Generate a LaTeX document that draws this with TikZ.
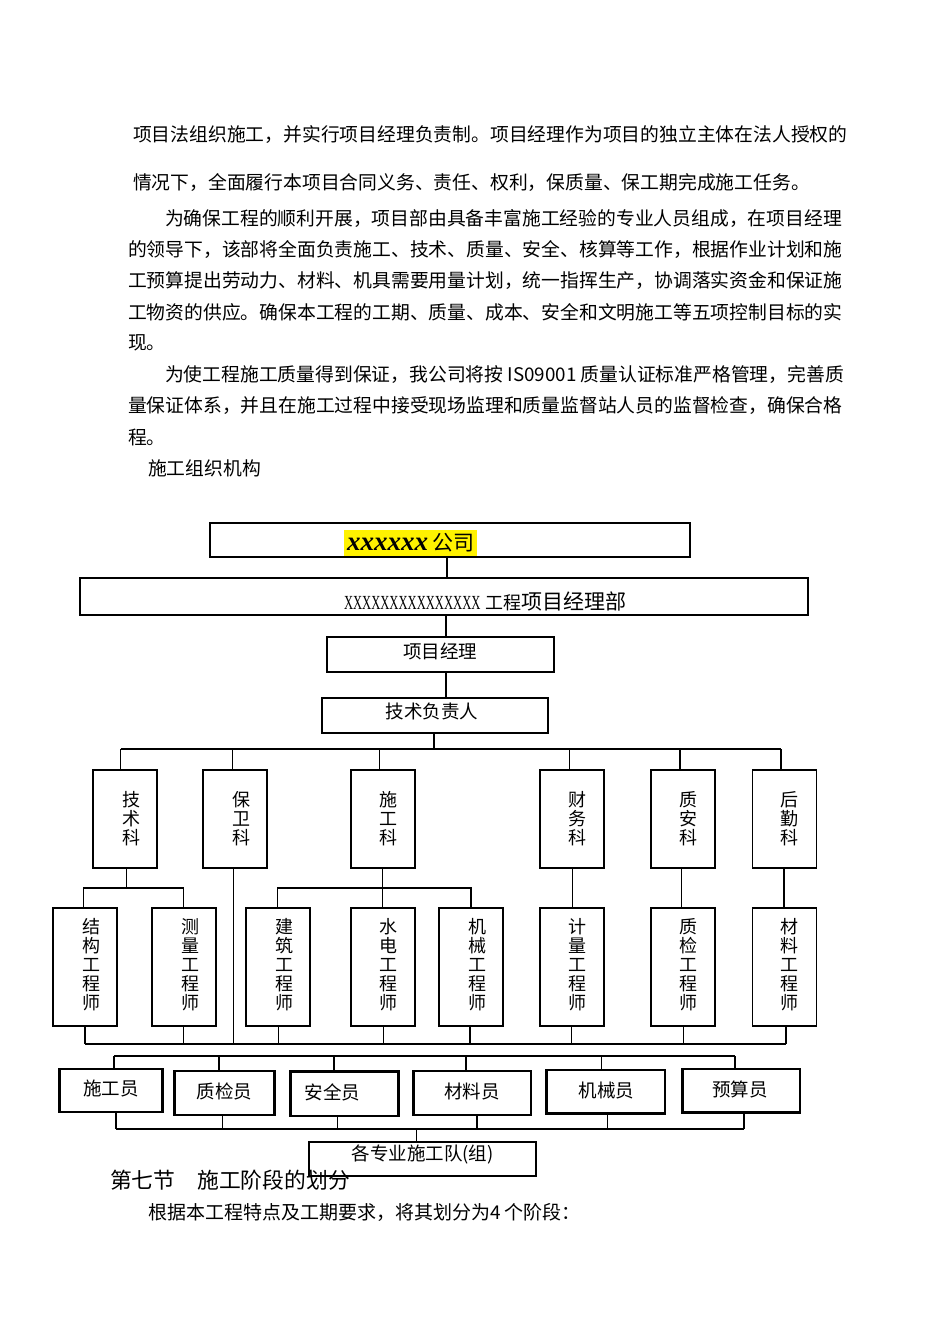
\documentclass[tikz,border=0pt]{standalone}
\usepackage{fontspec}
\usepackage{graphicx}
\setmainfont{Noto Sans CJK SC}
\newfontfamily\lserif{Liberation Serif}
\begin{document}
\begin{tikzpicture}[x=1pt,y=-1pt,
  every node/.style={inner sep=0pt, outer sep=0pt},
  box/.style={draw, line width=1.8pt, fill=white},
  sbox/.style={draw, line width=2.6pt, fill=white},
  secbox/.style={box, minimum width=64pt, minimum height=98pt},
  engbox/.style={box, minimum width=64pt, minimum height=118pt},
  conn/.style={line width=1.2pt},
  para/.style={anchor=west, font=\fontsize{18.8}{18.8}\selectfont},
  vtxt/.style={align=center, font=\fontsize{18}{19}\selectfont},
  htxt/.style={font=\fontsize{18.5}{18.5}\selectfont},
]
\fill[white] (0,0) rectangle (950,1344);
\useasboundingbox (0,0) rectangle (950,1344);

% ---------------- paragraph text ----------------
\node[para] (p1) at (133,135) {项目法组织施工，并实行项目经理负责制。项目经理作为项目的独立主体在法人授权的};
\node[para] (p2) at (133,183) {情况下，全面履行本项目合同义务、责任、权利，保质量、保工期完成施工任务。};
\node[para] (p3) at (165,219) {为确保工程的顺利开展，项目部由具备丰富施工经验的专业人员组成，在项目经理};
\node[para] (p4) at (128,250) {的领导下，该部将全面负责施工、技术、质量、安全、核算等工作，根据作业计划和施};
\node[para] (p5) at (128,281) {工预算提出劳动力、材料、机具需要用量计划，统一指挥生产，协调落实资金和保证施};
\node[para] (p6) at (128,312) {工物资的供应。确保本工程的工期、质量、成本、安全和文明施工等五项控制目标的实};
\node[para] (p7) at (128,343) {现。};
\node[para] (p8) at (165,375) {为使工程施工质量得到保证，我公司将按 IS09001 质量认证标准严格管理，完善质};
\node[para] (p9) at (128,406) {量保证体系，并且在施工过程中接受现场监理和质量监督站人员的监督检查，确保合格};
\node[para] (p10) at (128,437) {程。};
\node[para] (p11) at (148,468) {施工组织机构};

% ---------------- top boxes ----------------
\node[box, minimum width=480pt, minimum height=34pt] (gs) at (450,540) {};
\node[fill=yellow, minimum width=133pt, minimum height=26pt] (gst) at (410.5,543)
  {{\lserif\bfseries\itshape\fontsize{27}{27}\selectfont xxxxxx}\hspace{4pt}{\fontsize{21}{21}\selectfont 公司}};
\node[box, minimum width=728pt, minimum height=37pt] (xmb) at (444,596.5) {};
\node[anchor=base west] (xmbt) at (344,609)
  {{\lserif\fontsize{20}{20}\selectfont\scalebox{0.63}[1]{XXXXXXXXXXXXXXX}}\hspace{5pt}{\fontsize{18}{18}\selectfont 工程}{\fontsize{21}{21}\selectfont 项目经理部}};
\node[box, minimum width=227pt, minimum height=35pt] (xmjl) at (440.5,654.5) {};
\node[htxt] (xmjlt) at ([xshift=-0.5pt,yshift=3.5pt]xmjl.center) {项目经理};
\node[box, minimum width=226pt, minimum height=35pt] (jsfzr) at (435,715.5) {};
\node[htxt] (jsfzrt) at ([xshift=-3pt,yshift=4.5pt]jsfzr.center) {技术负责人};

% ---------------- sections ----------------
\node[secbox] (jsk) at (125,819) {};
\node[secbox] (bwk) at (235,819) {};
\node[secbox] (sgk) at (383.3,819) {};
\node[secbox] (cwk) at (572,819) {};
\node[secbox] (zak) at (683,819) {};
\node[secbox] (hqk) at (784.4,819) {};
\node[vtxt] (jskt) at ([xshift=6pt,yshift=0.5pt]jsk.center) {技\\术\\科};
\node[vtxt] (bwkt) at ([xshift=6pt,yshift=0.5pt]bwk.center) {保\\卫\\科};
\node[vtxt] (sgkt) at ([xshift=5pt,yshift=0.5pt]sgk.center) {施\\工\\科};
\node[vtxt] (cwkt) at ([xshift=5pt,yshift=0.5pt]cwk.center) {财\\务\\科};
\node[vtxt] (zakt) at ([xshift=5pt,yshift=0.5pt]zak.center) {质\\安\\科};
\node[vtxt] (hqkt) at ([xshift=5.5pt,yshift=0.5pt]hqk.center) {后\\勤\\科};

% ---------------- engineers ----------------
\node[engbox] (jg) at (85,967) {};
\node[engbox] (cl) at (184,967) {};
\node[engbox] (jz) at (278.3,967) {};
\node[engbox] (sd) at (383,967) {};
\node[engbox] (jx) at (471,967) {};
\node[engbox] (jl) at (572,967) {};
\node[engbox] (zj) at (683,967) {};
\node[engbox] (clg) at (784.4,967) {};
\node[vtxt] (jgt) at ([xshift=6.5pt,yshift=2pt]jg.center) {结\\构\\工\\程\\师};
\node[vtxt] (clt) at ([xshift=6pt,yshift=2pt]cl.center) {测\\量\\工\\程\\师};
\node[vtxt] (jzt) at ([xshift=6.5pt,yshift=2pt]jz.center) {建\\筑\\工\\程\\师};
\node[vtxt] (sdt) at ([xshift=5.5pt,yshift=2pt]sd.center) {水\\电\\工\\程\\师};
\node[vtxt] (jxt) at ([xshift=6pt,yshift=2pt]jx.center) {机\\械\\工\\程\\师};
\node[vtxt] (jlt) at ([xshift=5.5pt,yshift=2pt]jl.center) {计\\量\\工\\程\\师};
\node[vtxt] (zjt) at ([xshift=5.5pt,yshift=2pt]zj.center) {质\\检\\工\\程\\师};
\node[vtxt] (clgt) at ([xshift=5.5pt,yshift=2pt]clg.center) {材\\料\\工\\程\\师};

% ---------------- staff ----------------
\node[sbox, minimum width=103pt, minimum height=43pt] (sgy) at (110.8,1090.5) {};
\node[sbox, minimum width=99.6pt, minimum height=44pt] (zjy) at (224.5,1093) {};
\node[sbox, minimum width=107.6pt, minimum height=44.3pt] (aqy) at (344.5,1093.8) {};
\node[sbox, minimum width=117.7pt, minimum height=44pt] (cly) at (472.2,1093) {};
\node[sbox, minimum width=118.3pt, minimum height=43.3pt] (jxy) at (605.9,1091.7) {};
\node[sbox, minimum width=117.7pt, minimum height=43.7pt] (ysy) at (741.2,1090.9) {};
\node[htxt] (sgyt) at ([yshift=2.5pt]sgy.center) {施工员};
\node[htxt] (zjyt) at ([yshift=1.3pt]zjy.center) {质检员};
\node[htxt] (aqyt) at ([xshift=-12pt,yshift=1.8pt]aqy.center) {安全员};
\node[htxt] (clyt) at ([yshift=2pt]cly.center) {材料员};
\node[htxt] (jxyt) at ([xshift=0.8pt,yshift=1.7pt]jxy.center) {机械员};
\node[htxt] (ysyt) at ([xshift=-1pt,yshift=1pt]ysy.center) {预算员};

\node[box, minimum width=226.4pt, minimum height=34pt] (gzy) at (422.5,1158.7) {};
\node[htxt] (gzyt) at ([yshift=4.7pt]gzy.center) {各专业施工队(组)};

% ---------------- connectors ----------------
\draw[conn] ([xshift=-3pt]gs.south) -- ([xshift=3pt]xmb.north);
\draw[conn] ([xshift=2pt]xmb.south) -- ([xshift=5.5pt]xmjl.north);
\draw[conn] ([xshift=5.5pt]xmjl.south) -- ([xshift=11pt]jsfzr.north);

\coordinate (jb) at (434,749);
\coordinate (b1) at (120.7,749);
\coordinate (b2) at (232.3,749);
\coordinate (b3) at (379.3,749);
\coordinate (b4) at (569.3,749);
\coordinate (b5) at (680,749);
\coordinate (b6) at (781,749);
\draw[conn] (jsfzr.south -| jb) -- (jb);
\draw[conn] (b1) -- (b6);
\foreach \c/\n in {b1/jsk,b2/bwk,b3/sgk,b4/cwk,b5/zak,b6/hqk}
  \draw[conn] (\c) -- (\c |- \n.north);

\coordinate (t0) at (126.7,888);
\coordinate (t1) at (83.3,888);
\coordinate (t2) at (183.3,888);
\draw[conn] (jsk.south -| t0) -- (t0);
\draw[conn] (t1 |- jg.north) -- (t1) -- (t2) -- (t2 |- cl.north);

\coordinate (s0) at (382.7,888);
\coordinate (s1) at (277.7,888);
\coordinate (s2) at (471,888);
\draw[conn] (sgk.south -| s0) -- (sd.north -| s0);
\draw[conn] (s1 |- jz.north) -- (s1) -- (s2) -- (s2 |- jx.north);

\coordinate (f1) at (572.7,888);
\coordinate (f2) at (681.7,888);
\coordinate (f3) at (784,888);
\draw[conn] (cwk.south -| f1) -- (jl.north -| f1);
\draw[conn] (zak.south -| f2) -- (zj.north -| f2);
\draw[conn] (hqk.south -| f3) -- (clg.north -| f3);

\coordinate (bw) at (233.3,1044);
\draw[conn] (bwk.south -| bw) -- (bw);

\coordinate (e1) at (85,1044);
\coordinate (e2) at (183.3,1044);
\coordinate (e3) at (278.3,1044);
\coordinate (e4) at (383.3,1044);
\coordinate (e5) at (470,1044);
\coordinate (e6) at (571.7,1044);
\coordinate (e7) at (683.3,1044);
\coordinate (e8) at (786,1044);
\foreach \c/\n in {e1/jg,e2/cl,e3/jz,e4/sd,e5/jx,e6/jl,e7/zj,e8/clg}
  \draw[conn] (\n.south -| \c) -- (\c);
\draw[conn] (e1) -- (e8);

\coordinate (u1) at (114,1056);
\coordinate (u2) at (219,1056);
\coordinate (u3) at (334,1056);
\coordinate (u4) at (466,1056);
\coordinate (u5) at (601.7,1056);
\coordinate (u6) at (735,1056);
\draw[conn] (u1) -- (u6);
\foreach \c/\n in {u1/sgy,u2/zjy,u3/aqy,u4/cly,u5/jxy,u6/ysy}
  \draw[conn] (\c) -- (\c |- \n.north);

\coordinate (v1) at (116,1129);
\coordinate (v2) at (222.7,1129);
\coordinate (v3) at (337.3,1129);
\coordinate (v4) at (477,1129);
\coordinate (v5) at (607.3,1129);
\coordinate (v6) at (744,1129);
\coordinate (vg) at (416.7,1129);
\foreach \c/\n in {v1/sgy,v2/zjy,v3/aqy,v4/cly,v5/jxy,v6/ysy}
  \draw[conn] (\n.south -| \c) -- (\c);
\draw[conn] (v1) -- (v6);
\draw[conn] (vg) -- (vg |- gzy.north);

% ---------------- bottom text ----------------
\node[anchor=west, font=\fontsize{21.8}{21.8}\selectfont] (sec7) at (110,1180) {第七节　施工阶段的划分};
\node[anchor=west, font=\fontsize{19}{19}\selectfont] (p12) at (148,1212) {根据本工程特点及工期要求，将其划分为4 个阶段：};
\end{tikzpicture}
\end{document}
